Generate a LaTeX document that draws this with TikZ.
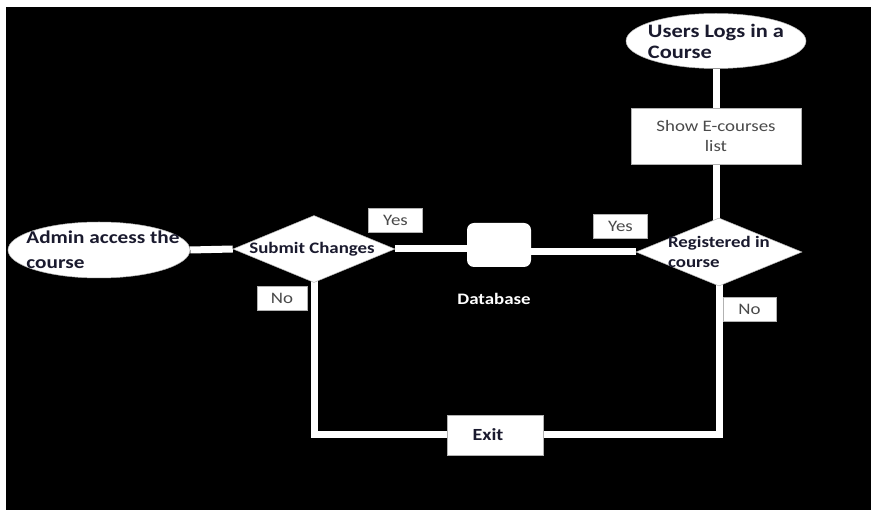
\documentclass[tikz,border=0pt]{standalone}
\usepackage{fontspec}
\setmainfont{Carlito}[FakeStretch=1.18]
\usetikzlibrary{shapes.geometric,backgrounds}
\definecolor{ink}{HTML}{1A1A2E}
\definecolor{soft}{HTML}{4A4A4A}
\begin{document}
\begin{tikzpicture}[x=1pt,y=-1pt,
  conn/.style={draw=white, line width=7pt, line join=miter},
  shapebox/.style={fill=white, draw=gray!60, line width=0.5pt, inner sep=0pt},
  boldtxt/.style={font=\bfseries\fontsize{16}{20}\selectfont, text=ink, align=left, inner sep=0pt},
  tag/.style={shapebox, minimum width=54pt, minimum height=24pt, font=\fontsize{16}{20}\selectfont, text=soft},
]
\useasboundingbox (0,0) rectangle (871,510);

% nodes
\node[shapebox, ellipse, minimum width=180pt, minimum height=55pt,
  label={[boldtxt, font=\bfseries\fontsize{19}{21}\selectfont]center:Users Logs in a\\Course}] (users) at (716,41) {};
\node[shapebox, rectangle, minimum width=170pt, minimum height=56pt,
  font=\fontsize{16}{20}\selectfont, text=soft, align=center] (show) at (716,136) {Show E-courses\\list};
\node[shapebox, diamond, minimum width=166pt, minimum height=68pt,
  label={[boldtxt]center:Registered in\\course}] (reg) at (719,252) {};
\node[shapebox, ellipse, minimum width=182pt, minimum height=56pt,
  label={[boldtxt, font=\bfseries\fontsize{18}{25}\selectfont, xshift=4pt]center:Admin access the\\course}] (admin) at (99,250) {};
\node[shapebox, diamond, minimum width=162pt, minimum height=67pt,
  label={[boldtxt, xshift=-2pt]center:Submit Changes}] (submit) at (314,249) {};
\node[fill=white, rounded corners=7pt, minimum width=64pt, minimum height=44pt, inner sep=0pt] (db) at (499,245) {};
\node[font=\bfseries\fontsize{16}{20}\selectfont, text=white] (dblabel) at (494,299) {Database};
\node[shapebox, minimum width=96pt, minimum height=40pt,
  font=\bfseries\fontsize{17}{20}\selectfont, text=ink] (exit) at (495,435) {Exit\hspace*{14pt}};
\node[tag] (yes1) at (395.5,220) {Yes};
\node[tag] (yes2) at (620.5,226) {Yes};
\node[tag, minimum width=50pt] (no1) at (282,298) {No};
\node[tag, minimum width=53pt] (no2) at (749.5,309) {No};

\begin{pgfonlayer}{background}
\fill[white] (0,0) rectangle (871,510);
\fill[black] (6,7) rectangle (871,510);
\draw[conn] (admin.east) -- (submit.west);
\draw[conn] (submit.east) -- (submit.east -| db.center);
\draw[conn] (db.center |- reg.west) -- (reg.west);
\draw[conn] (users.south) -- (users.south |- show.center);
\draw[conn] (show.south) -- (show.south |- reg.center);
\draw[conn] (submit.center) |- (exit.west);
\draw[conn] (exit.east) -| (reg.center);
\end{pgfonlayer}
\end{tikzpicture}
\end{document}
